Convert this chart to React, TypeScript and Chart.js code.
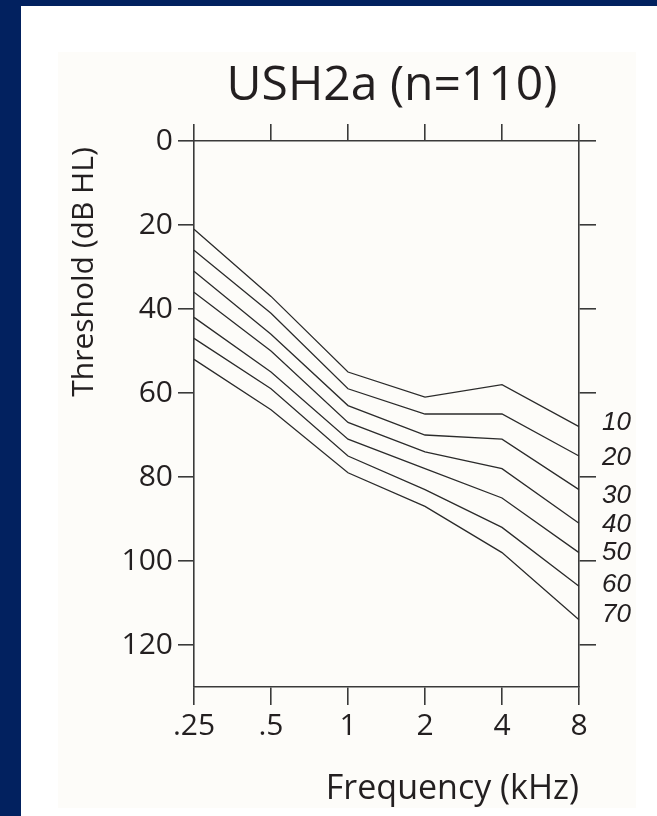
import React, { useEffect, useRef } from 'react';
import { Chart, registerables } from 'chart.js';

Chart.register(...registerables);

// ---- data ----
const frequencies = ['.25', '.5', '1', '2', '4', '8'];
const percentileLabels = ['10', '20', '30', '40', '50', '60', '70'];
const p10 = [21, 37, 55, 61, 58, 68];
const p20 = [26, 41, 59, 65, 65, 75];
const p30 = [31, 46, 63, 70, 71, 83];
const p40 = [36, 50, 67, 74, 78, 91];
const p50 = [42, 55, 71, 78, 85, 98];
const p60 = [47, 59, 75, 83, 92, 106];
const p70 = [52, 64, 79, 87, 98, 114];
const seriesList = [p10, p20, p30, p40, p50, p60, p70];
// label anchor values (dB) for the percentile labels at the right edge
const labelAnchors = [67.2, 75.4, 84.5, 91.3, 98.1, 105.7, 112.9];
const yTickValues = [0, 20, 40, 60, 80, 100, 120];
const yMin = 0;
const yMax = 130;
const chartTitle = 'USH2a (n=110)';
const yTitle = 'Threshold (dB HL)';
const xTitle = 'Frequency (kHz)';

const W = 657;
const H = 816;
const FONT = "'Open Sans', 'Noto Sans', sans-serif";
const TEXT = '#231f20';
const AXIS = '#3a3a3a';

const bgPlugin = {
  id: 'bgPanel',
  beforeDraw(chart: any) {
    const { ctx, width, height } = chart;
    ctx.save();
    ctx.fillStyle = '#02215f';
    ctx.fillRect(0, 0, width, height);
    ctx.fillStyle = '#ffffff';
    ctx.fillRect(21, 6, width - 21, height - 6);
    ctx.fillStyle = '#fdfcf9';
    ctx.fillRect(58, 52, 578, 756);
    ctx.restore();
  },
};

const textPlugin = {
  id: 'texts',
  afterDraw(chart: any) {
    const { ctx } = chart;
    const yScale = chart.scales.y;
    const area = chart.chartArea;
    ctx.save();
    ctx.fillStyle = TEXT;
    // chart title
    ctx.font = `48px ${FONT}`;
    ctx.textAlign = 'center';
    ctx.textBaseline = 'alphabetic';
    ctx.fillText(chartTitle, 392, 100);
    // y title
    ctx.save();
    ctx.translate(93, 272);
    ctx.rotate(-Math.PI / 2);
    ctx.font = `30px ${FONT}`;
    ctx.textAlign = 'center';
    ctx.textBaseline = 'alphabetic';
    ctx.fillText(yTitle, 0, 0);
    ctx.restore();
    // percentile labels
    ctx.font = `italic 26px 'Liberation Sans', Arial, sans-serif`;
    ctx.textAlign = 'left';
    ctx.textBaseline = 'middle';
    percentileLabels.forEach((lab, i) => {
      const y = yScale.getPixelForValue(labelAnchors[i]);
      ctx.fillText(lab, area.right + 23, y);
    });
    ctx.restore();
  },
};

export default function App() {
  const ref = useRef<HTMLCanvasElement | null>(null);

  useEffect(() => {
    if (!ref.current) return;
    const setTicks = (s: any) => {
      s.ticks = yTickValues.map((v) => ({ value: v }));
    };
    const gridCommon = {
      drawOnChartArea: false,
      drawTicks: true,
      color: AXIS,
      lineWidth: 1.6,
    };
    const borderCommon = { display: true, color: AXIS, width: 1.6 };
    const chart = new Chart(ref.current, {
      type: 'line',
      data: {
        labels: frequencies,
        datasets: seriesList.map((d, i) => ({
          label: percentileLabels[i],
          data: d,
          borderColor: '#2b2b2b',
          borderWidth: 1.3,
          pointRadius: 0,
          fill: false,
          tension: 0,
        })),
      },
      options: {
        animation: false,
        responsive: false,
        devicePixelRatio: 1,
        layout: { padding: 0 },
        plugins: {
          legend: { display: false },
          tooltip: { enabled: false },
          title: { display: false },
        },
        scales: {
          x: {
            type: 'category',
            position: 'bottom',
            offset: false,
            grid: { ...gridCommon, tickLength: 18 },
            border: borderCommon,
            ticks: {
              font: { family: FONT, size: 30 },
              color: TEXT,
              padding: 3,
              maxRotation: 0,
              autoSkip: false,
            },
            title: {
              display: true,
              text: xTitle,
              align: 'end',
              color: TEXT,
              font: { family: FONT, size: 34 },
              padding: { top: 14, bottom: 6 },
            },
            afterFit(s: any) {
              s.height = H - 687;
            },
          },
          xTop: {
            type: 'category',
            position: 'top',
            offset: false,
            grid: { ...gridCommon, tickLength: 17 },
            border: borderCommon,
            ticks: { display: false },
            afterFit(s: any) {
              s.height = 141;
            },
          },
          y: {
            type: 'linear',
            position: 'left',
            reverse: true,
            min: yMin,
            max: yMax,
            afterBuildTicks: setTicks,
            grid: { ...gridCommon, tickLength: 16 },
            border: borderCommon,
            ticks: {
              font: { family: FONT, size: 30 },
              color: TEXT,
              padding: 5,
            },
            afterFit(s: any) {
              s.width = 194;
            },
          },
          yRight: {
            type: 'linear',
            position: 'right',
            reverse: true,
            min: yMin,
            max: yMax,
            afterBuildTicks: setTicks,
            grid: { ...gridCommon, tickLength: 17 },
            border: borderCommon,
            ticks: { display: false },
            afterFit(s: any) {
              s.width = W - 579;
            },
          },
        },
      } as any,
      plugins: [bgPlugin, textPlugin],
    });
    return () => chart.destroy();
  }, []);

  return (
    <canvas
      ref={ref}
      width={W}
      height={H}
      style={{ position: 'fixed', left: 0, top: 0, display: 'block', width: W, height: H }}
    />
  );
}
